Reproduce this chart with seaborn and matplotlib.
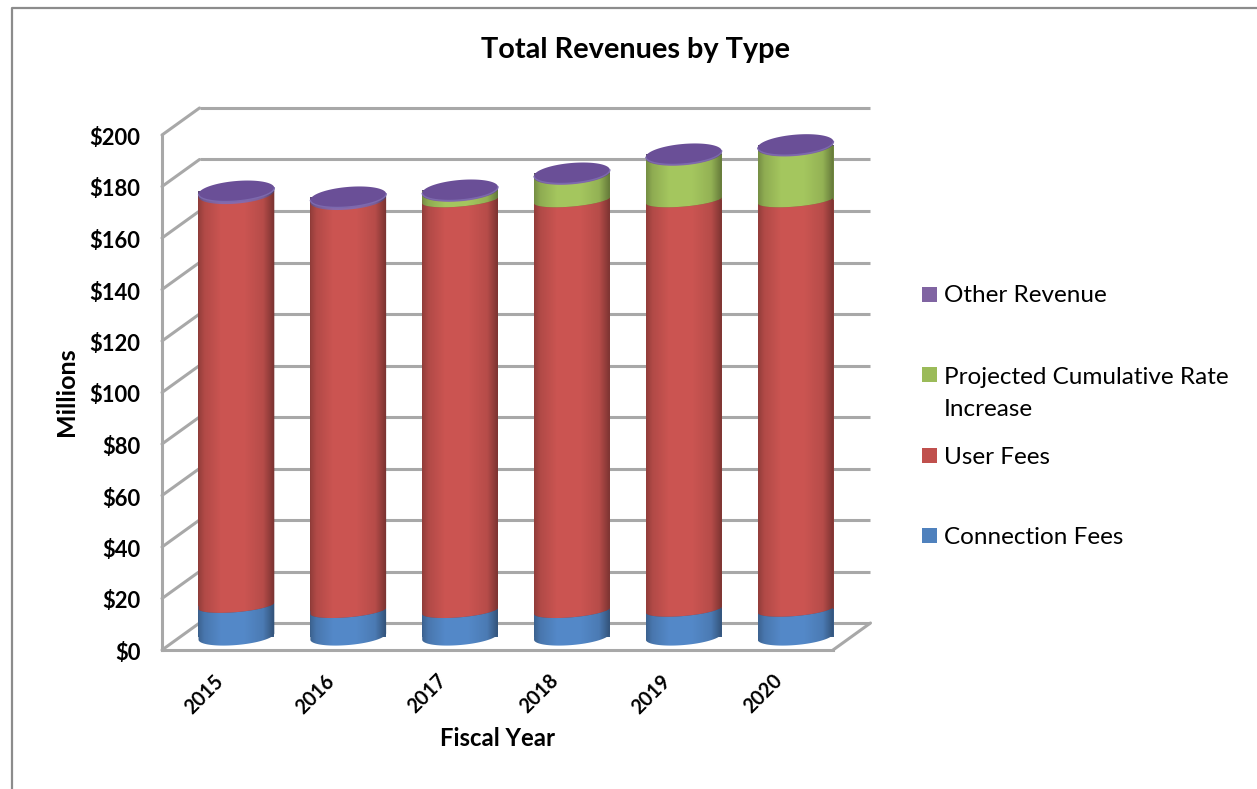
import numpy as np
import pandas as pd
import matplotlib
matplotlib.use("Agg")
import matplotlib.pyplot as plt
import seaborn as sns
from matplotlib.path import Path
from matplotlib.patches import Rectangle
from matplotlib.transforms import ScaledTranslation

years = ["2015", "2016", "2017", "2018", "2019", "2020"]
connection_fees = [12.0, 10.0, 10.0, 10.0, 10.5, 10.5]
user_fees = [160.0, 159.7, 159.5, 159.5, 159.0, 159.0]
rate_increase = [0.0, 0.0, 3.4, 10.0, 17.4, 21.0]
other_revenue = [1.0, 1.0, 0.5, 0.5, 0.5, 0.5]
y_ticks = list(range(0, 201, 20))
series_names = ["Connection Fees", "User Fees",
                "Projected Cumulative Rate\nIncrease", "Other Revenue"]
series_values = [connection_fees, user_fees, rate_increase, other_revenue]
series_colors = ["#4F81BD", "#C0504D", "#9BBB59", "#8064A2"]

W, H = 1257, 789
DPI = 100
GRID = "#A8A8A8"
BAR_WIDTH = 0.68
TILT = np.deg2rad(5.0)

sns.set_theme(style="white")
plt.rcParams["font.family"] = ["Lato", "DejaVu Sans"]

fig = plt.figure(figsize=(W / DPI, H / DPI), dpi=DPI)
ax = fig.add_axes([162 / W, (H - 650) / H, (833 - 162) / W, (650 - 135) / H])
ax.patch.set_alpha(0)

# Pixel scale of the front plane, used to shape the cylinder ellipses
sx = (833 - 162) / 6.0
sy = (650 - 135) / 200.0

# Depth offsets: the back wall and the plane through the cylinder axes
back = ax.transData + ScaledTranslation(37.5 / DPI, 27 / DPI, fig.dpi_scale_trans)
mid = ax.transData + ScaledTranslation(18.5 / DPI, 13.5 / DPI, fig.dpi_scale_trans)


def ellipse_points(cx, cy, b_px, t):
    """Points of a tilted ellipse around (cx, cy), returned in data units."""
    a_px = BAR_WIDTH * sx / 2
    px = a_px * np.cos(t) * np.cos(TILT) - b_px * np.sin(t) * np.sin(TILT)
    py = a_px * np.cos(t) * np.sin(TILT) + b_px * np.sin(t) * np.cos(TILT)
    return cx + px / sx, cy + py / sy


def side_path(cx, y0, y1, b0, b1):
    """Visible front surface of one cylinder segment."""
    t = np.linspace(np.pi, 2 * np.pi, 60)
    x0s, y0s = ellipse_points(cx, y0, b0, t)
    x1s, y1s = ellipse_points(cx, y1, b1, t[::-1])
    return Path(np.r_[np.c_[x0s, y0s], np.c_[x1s, y1s], [[x0s[0], y0s[0]]]], closed=True)


# Walls and floor of the plot box
for v in y_ticks:
    ax.plot([-0.5, 5.5], [v, v], color=GRID, lw=2.2, transform=back,
            clip_on=False, zorder=1, solid_capstyle="butt")
    ax.plot([-0.5, -0.5 + 37.5 / sx], [v, v + 27 / sy], color=GRID, lw=2.2,
            clip_on=False, zorder=1)
ax.plot([5.5, 5.5 + 37.5 / sx], [0, 27 / sy], color=GRID, lw=2.2, clip_on=False, zorder=1)

# Shading across a cylinder, from the left edge to the right edge
shade_pos = np.array([0.0, 0.08, 0.30, 0.60, 0.85, 1.0])
shade_val = np.array([0.76, 0.92, 1.06, 1.06, 0.95, 0.62])
shade = np.interp(np.linspace(0, 1, 120), shade_pos, shade_val)

df = pd.DataFrame({"year": years})
bottoms = np.zeros(len(years))
for s, (name, vals, col) in enumerate(zip(series_names, series_values, series_colors)):
    n_before = len(ax.patches)
    vals = np.asarray(vals, dtype=float)
    df["value"] = vals
    rgb = np.array(matplotlib.colors.to_rgb(col))
    sns.barplot(data=df, x="year", y="value", color=tuple(rgb * 0.72), saturation=1,
                width=BAR_WIDTH, bottom=bottoms, ax=ax, zorder=1.9, order=years, errorbar=None)
    strip = np.clip(shade[None, :, None] * rgb[None, None, :], 0, 1)
    for i, rect in enumerate(ax.patches[n_before:]):
        rect.set_transform(mid)
        rect.set_clip_on(False)
        rect.set_linewidth(0)
        if vals[i] <= 0:
            continue
        base, top = bottoms[i], bottoms[i] + vals[i]
        b0 = {0: 8.5, 3: 10.0}.get(s, 6.5)
        b1 = 10.0 if s == 3 else 6.5
        cx = rect.get_x() + rect.get_width() / 2
        path = side_path(cx, base, top, b0, b1)
        rect.set_clip_path(path, transform=mid)
        pad = 14 / sy
        im = ax.imshow(strip, extent=[cx - BAR_WIDTH / 2, cx + BAR_WIDTH / 2, base - pad, top + pad],
                       aspect="auto", interpolation="bilinear", transform=mid,
                       zorder=2 + s * 0.1)
        im.set_clip_path(path, transform=mid)
    bottoms = bottoms + vals

# Cylinder caps, with a lighter rim along the front edge
for i, total in enumerate(bottoms):
    t = np.linspace(0, 2 * np.pi, 120)
    xs, ys = ellipse_points(i, total, 10.0, t)
    ax.fill(xs, ys, color="#6A4F97", transform=mid, clip_on=False, zorder=3, lw=0)
    t = np.linspace(np.pi, 2 * np.pi, 60)
    xs, ys = ellipse_points(i, total, 10.0, t)
    ax.plot(xs, ys, color="#7C69AE", lw=1.0, transform=mid, clip_on=False, zorder=3.1)

ax.set_xlim(-0.5, 5.5)
ax.set_ylim(0, 200)

# Front edges of the box
sns.despine(ax=ax, top=True, right=True)
for side in ("left", "bottom"):
    ax.spines[side].set_color(GRID)
    ax.spines[side].set_linewidth(2.2)
    ax.spines[side].set_zorder(1.5)

ax.set_yticks(y_ticks)
ax.set_yticklabels([f"${v}" for v in y_ticks], fontsize=15.8, fontweight="bold", color="black")
ax.set_xticks(range(len(years)))
ax.set_xticklabels(years, fontsize=14.2, fontweight="bold", color="black", rotation=45,
                   ha="right", rotation_mode="anchor")
ax.tick_params(axis="y", length=0, pad=15.5)
ax.tick_params(axis="x", length=0, pad=15)
x_shift = ScaledTranslation(-5 / DPI, 0, fig.dpi_scale_trans)
for label in ax.get_xticklabels():
    label.set_transform(label.get_transform() + x_shift)
y_shift = ScaledTranslation(0, -1.5 / DPI, fig.dpi_scale_trans)
for label in ax.get_yticklabels():
    label.set_transform(label.get_transform() + y_shift)
ax.set_xlabel("")
ax.set_ylabel("")

fig.text(635 / W, 1 - 50 / H, "Total Revenues by Type", fontsize=20.8, fontweight="bold",
         ha="center", va="center", color="black")
fig.text(497 / W, 1 - 739 / H, "Fiscal Year", fontsize=17.2, fontweight="bold",
         ha="center", va="center", color="black")
fig.text(67 / W, 1 - 392 / H, "Millions", fontsize=18, fontweight="bold", rotation=90,
         ha="center", va="center", color="black")

# Legend column
legend_rows = [(3, 287, 295), (2, 367, 367), (1, 448, 457), (0, 528, 537)]
for s, top_px, text_px in legend_rows:
    fig.patches.append(Rectangle((922 / W, 1 - (top_px + 15) / H), 15 / W, 15 / H,
                                 transform=fig.transFigure, facecolor=series_colors[s],
                                 edgecolor="none"))
    if "\n" in series_names[s]:
        fig.text(944 / W, 1 - text_px / H, series_names[s], fontsize=17.5, color="black",
                 ha="left", va="top", linespacing=1.62)
    else:
        fig.text(944 / W, 1 - text_px / H, series_names[s], fontsize=17.5, color="black",
                 ha="left", va="center")

# Chart area frame, running off the right and bottom of the canvas
fig.add_artist(plt.Line2D([11.5 / W, 11.5 / W, 1.0], [0.0, 1 - 8 / H, 1 - 8 / H],
                          color="#8C8C8C", lw=1.6, transform=fig.transFigure))

fig.savefig("out.png", dpi=DPI)
